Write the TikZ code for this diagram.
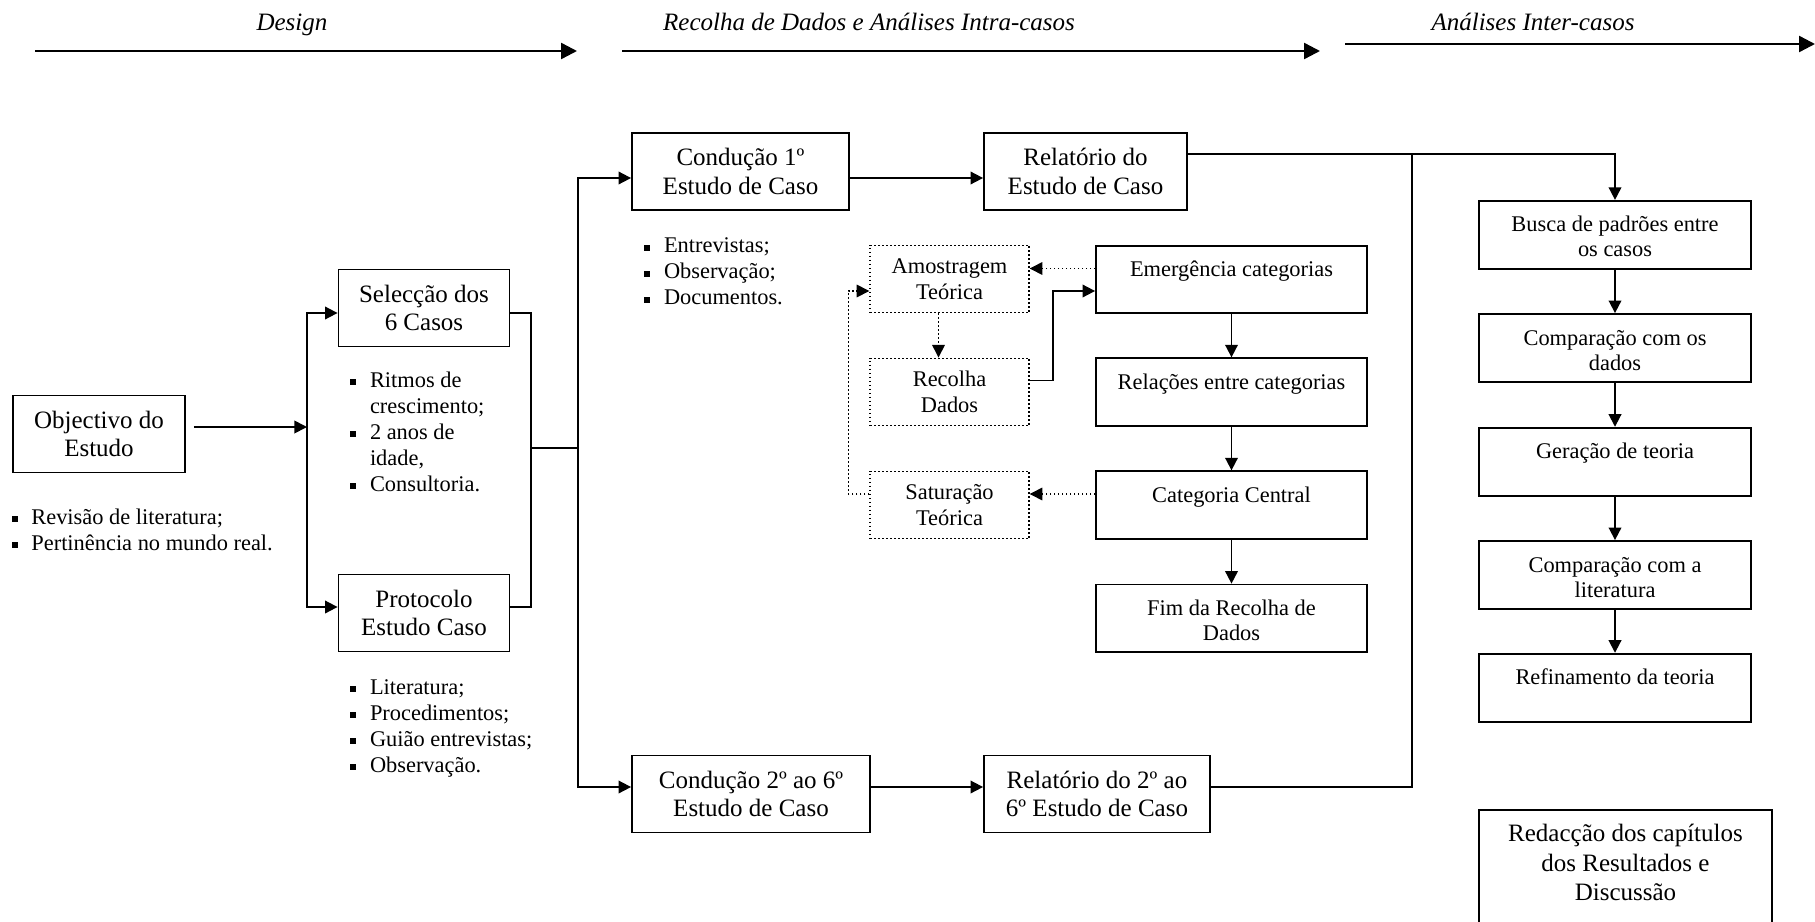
\documentclass[tikz,border=0pt]{standalone}
\usepackage{fontspec}
\setmainfont{Liberation Serif}
\usetikzlibrary{arrows.meta}

% text set at the top of a fixed-size box: width, height, first baseline, text
\newcommand{\toptext}[4]{\parbox[c][#2][t]{#1}{\centering\rule{0pt}{#3}#4\par}}
% square list bullet and the matching hanging indent
\newcommand{\sqbullet}{\makebox[9.8pt][l]{\rule[1.1pt]{2.9pt}{2.9pt}}}
\newcommand{\bindent}{\hspace*{9.8pt}}

\begin{document}
\begin{tikzpicture}[x=0.5pt, y={(0pt,-0.5pt)},
  box/.style={draw, line width=0.9pt, inner sep=0pt, align=center,
    font=\fontsize{12.5}{14.2}\selectfont},
  dots/.style={dash pattern=on 0.8pt off 1.2pt},
  dotbox/.style={draw, dots, line width=0.7pt, inner sep=0pt, align=center,
    font=\fontsize{11.2}{12.8}\selectfont},
  topbox/.style={draw, line width=0.9pt, inner sep=0pt,
    font=\fontsize{11.2}{12.5}\selectfont},
  blist/.style={inner sep=0pt, anchor=base west,
    font=\fontsize{11.2}{13}\selectfont},
  phase/.style={anchor=base, font=\fontsize{12.5}{15}\selectfont\itshape},
  link/.style={line width=0.9pt},
  arr/.style={link, -{Triangle[length=6.3pt, width=6.3pt]}},
  darr/.style={line width=0.7pt, dots, -{Triangle[length=6.3pt, width=6.3pt]}},
  harr/.style={line width=1.2pt, -{Triangle[length=8pt, width=8pt]}},
]
\useasboundingbox (0,0) rectangle (1815,921);

% ---- phases along the top ----
\node[phase] (ph1) at (292,31) {Design};
\node[phase] (ph2) at (869,31) {Recolha de Dados e Análises Intra-casos};
\node[phase] (ph3) at (1533,31) {Análises Inter-casos};
\coordinate (h1s) at (35,51);   \coordinate (h1e) at (577,51);
\coordinate (h2s) at (622,51);  \coordinate (h2e) at (1320,51);
\coordinate (h3s) at (1345,44); \coordinate (h3e) at (1815,44);
\draw[harr] (h1s) -- (h1e);
\draw[harr] (h2s) -- (h2e);
\draw[harr] (h3s) -- (h3e);

% ---- design ----
\node[box, minimum width=86pt, minimum height=38.5pt] (obj) at (99,434) {Objectivo do\\Estudo};
\node[box, minimum width=85.5pt, minimum height=38.5pt] (sel) at (424,308) {Selecção dos\\6 Casos};
\node[box, minimum width=85.5pt, minimum height=38.5pt] (prot) at (424,613) {Protocolo\\Estudo Caso};

\node[blist] (lobj) at (11.4,524) {\parbox[t]{170pt}{\raggedright
  \sqbullet Revisão de literatura;\\
  \sqbullet Pertinência no mundo real.}};
\node[blist] (lsel) at (350,387) {\parbox[t]{100pt}{\raggedright
  \sqbullet Ritmos de\\
  \bindent crescimento;\\
  \sqbullet 2 anos de\\
  \bindent idade,\\
  \sqbullet Consultoria.}};
\node[blist] (lprot) at (350,694) {\parbox[t]{120pt}{\raggedright
  \sqbullet Literatura;\\
  \sqbullet Procedimentos;\\
  \sqbullet Guião entrevistas;\\
  \sqbullet Observação.}};

% ---- data collection and within-case analysis ----
\node[box, minimum width=108.5pt, minimum height=38.5pt] (c1) at (740.5,171.5) {Condução 1º\\Estudo de Caso};
\node[box, minimum width=101.5pt, minimum height=38.5pt] (r1) at (1085.5,171.5) {Relatório do\\Estudo de Caso};
\node[box, minimum width=119pt, minimum height=38.5pt] (c2) at (751,794) {Condução 2º ao 6º\\Estudo de Caso};
\node[box, minimum width=113pt, minimum height=38.5pt] (r2) at (1097,794) {Relatório do 2º ao\\6º Estudo de Caso};

\node[blist] (lc1) at (644,252.7) {\parbox[t]{100pt}{\raggedright
  \sqbullet Entrevistas;\\
  \sqbullet Observação;\\
  \sqbullet Documentos.}};

\node[dotbox, minimum width=79.5pt, minimum height=33.75pt] (amo) at (949.5,279) {Amostragem\\Teórica};
\node[dotbox, minimum width=79.5pt, minimum height=33.75pt] (rec) at (949.5,392) {Recolha\\Dados};
\node[dotbox, minimum width=79.5pt, minimum height=33.75pt] (sat) at (949.5,505) {Saturação\\Teórica};

\node[topbox] (emer) at (1231.5,279.5) {\toptext{135.5pt}{33.75pt}{15.5pt}{Emergência categorias}};
\node[topbox] (rel)  at (1231.5,392)   {\toptext{135.5pt}{33.75pt}{15.5pt}{Relações entre categorias}};
\node[topbox] (cat)  at (1231.5,505)   {\toptext{135.5pt}{33.75pt}{15.5pt}{Categoria Central}};
\node[topbox] (fim)  at (1231.5,618.3) {\toptext{135.5pt}{33.75pt}{15.5pt}{Fim da Recolha de\\Dados}};

% ---- cross-case analysis ----
\node[topbox] (busca) at (1615,234.8) {\toptext{136pt}{34pt}{15.5pt}{Busca de padrões entre\\os casos}};
\node[topbox] (cdad)  at (1615,348)   {\toptext{136pt}{34pt}{15.5pt}{Comparação com os\\dados}};
\node[topbox] (ger)   at (1615,461.7) {\toptext{136pt}{34pt}{15.5pt}{Geração de teoria}};
\node[topbox] (clit)  at (1615,575)   {\toptext{136pt}{34pt}{15.5pt}{Comparação com a\\literatura}};
\node[topbox] (ref)   at (1615,687.7) {\toptext{136pt}{34pt}{15.5pt}{Refinamento da teoria}};
\node[topbox, anchor=north, font=\fontsize{12.5}{14.6}\selectfont] (red) at (1625.5,809)
  {\toptext{146.5pt}{62pt}{16pt}{Redacção dos capítulos\\dos Resultados e\\Discussão}};

% ---- connectors: design ----
\coordinate (spA) at (307,0);
\coordinate (spB) at (531,448);
\coordinate (spC) at (578,0);
\coordinate (spD) at (1412,0);

\coordinate (objout) at ([xshift=4pt,yshift=3.5pt]obj.east);
\coordinate (jA) at (objout -| spA);
\draw[arr] (objout) -- (jA);
\draw[arr] (jA) |- ([yshift=-2.5pt]sel.west);
\draw[arr] (jA) |- ([yshift=3pt]prot.west);
\draw[link] ([yshift=-2.5pt]sel.east) -| (spB) |- ([yshift=3pt]prot.east);

\coordinate (jC) at (spB -| spC);
\draw[link] (spB) -- (jC);
\draw[arr] (jC) |- ([yshift=-3.25pt]c1.west);
\draw[arr] (jC) |- ([yshift=3.5pt]c2.west);
\draw[arr] ([yshift=-3.25pt]c1.east) -- ([yshift=-3.25pt]r1.west);
\draw[arr] ([yshift=3.5pt]c2.east) -- ([yshift=3.5pt]r2.west);

% ---- connectors: reports to cross-case analysis ----
\coordinate (r1out) at ([yshift=8.75pt]r1.east);
\coordinate (jD) at (r1out -| spD);
\draw[arr] (r1out) -| (busca.north);
\draw[link] ([yshift=3.5pt]r2.east) -| (jD);

% ---- connectors: grounded-theory loop ----
\coordinate (e2a) at ([yshift=5.5pt]emer.west);
\draw[darr] (e2a) -- (e2a -| amo.east);
\draw[darr] ([xshift=-5.5pt]amo.south) -- ([xshift=-5.5pt]rec.north);
\draw[arr] ([yshift=5.75pt]rec.east) -- ++(11.5pt,0) |- ([yshift=-5.75pt]emer.west);
\coordinate (c2s) at ([yshift=5.5pt]cat.west);
\draw[darr] (c2s) -- (c2s -| sat.east);
\draw[darr] ([yshift=5.5pt]sat.west) -- ++(-10.5pt,0) |- ([yshift=-6pt]amo.west);

\draw[arr] (emer) -- (rel);
\draw[arr] (rel) -- (cat);
\draw[arr] (cat) -- (fim);

\draw[arr] (busca) -- (cdad);
\draw[arr] (cdad) -- (ger);
\draw[arr] (ger) -- (clit);
\draw[arr] (clit) -- (ref);

\end{tikzpicture}
\end{document}
